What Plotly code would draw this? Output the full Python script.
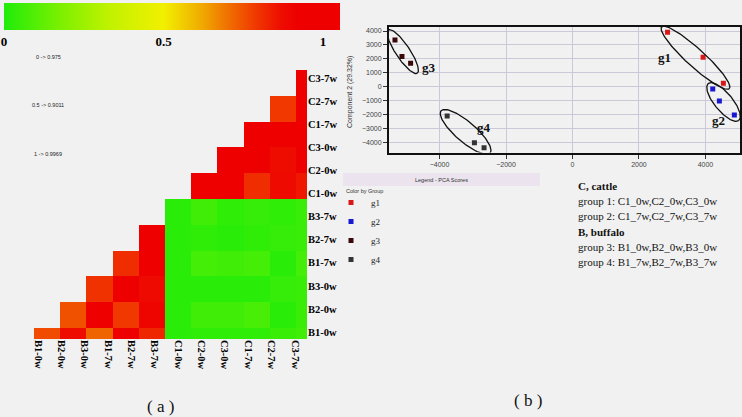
import numpy as np
import plotly.graph_objects as go

W, H = 742, 417
BG = '#f1f1f1'
SERIF = 'Liberation Serif'
SANS = 'Liberation Sans'

# ---------------- data: panel (a) ----------------
samples = ['B1-0w', 'B2-0w', 'B3-0w', 'B1-7w', 'B2-7w', 'B3-7w',
           'C1-0w', 'C2-0w', 'C3-0w', 'C1-7w', 'C2-7w', 'C3-7w']

# similarity on the 0..1 colour scale; each list = sample vs all later samples
sim_B1_0w = [0.76, 0.87, 0.72, 0.95, 0.82, 0.02, 0.03, 0.03, 0.03, 0.05, 0.06]
sim_B2_0w = [0.75, 0.95, 0.79, 0.90, 0.02, 0.06, 0.06, 0.08, 0.02, 0.05]
sim_B3_0w = [0.80, 0.95, 0.88, 0.02, 0.02, 0.02, 0.02, 0.04, 0.05]
sim_B1_7w = [0.81, 0.95, 0.02, 0.07, 0.06, 0.07, 0.02, 0.07]
sim_B2_7w = [0.95, 0.02, 0.03, 0.02, 0.03, 0.04, 0.05]
sim_B3_7w = [0.02, 0.06, 0.03, 0.04, 0.03, 0.05]
sim_C1_0w = [0.95, 0.95, 0.81, 0.88, 0.85]
sim_C2_0w = [0.95, 0.95, 0.87, 0.95]
sim_C3_0w = [0.95, 0.95, 0.95]
sim_C1_7w = [0.79, 0.95]
sim_C2_7w = [0.95]

scale_ticks = [0, 0.5, 1]
scale_ticktext = ['0', '0.5', '1']
scale_notes = ['0 -> 0.975', '0.5 -> 0.9011', '1 -> 0.9969']

# ---------------- data: panel (b) ----------------
groups = ['g1', 'g2', 'g3', 'g4']
pc1_g1 = [2860, 3930, 4540]
pc2_g1 = [3910, 2120, 250]
pc1_g2 = [4220, 4420, 4870]
pc2_g2 = [-160, -1030, -2040]
pc1_g3 = [-5340, -5130, -4870]
pc2_g3 = [3360, 2160, 1680]
pc1_g4 = [-3770, -2950, -2660]
pc2_g4 = [-2110, -4030, -4390]

info_lines = ['<b>C, cattle</b>',
              'group 1: C1_0w,C2_0w,C3_0w',
              'group 2: C1_7w,C2_7w,C3_7w',
              '<b>B, buffalo</b>',
              'group 3: B1_0w,B2_0w,B3_0w',
              'group 4: B1_7w,B2_7w,B3_7w']

# ---------------- styles ----------------
group_colors = ['#d81818', '#1818d0', '#3a0808', '#333333']
ellipse_pad = [(8, 9), (7, 9), (12, 7), (8, 10)]
group_label_pos = [(2770, 2060), (4380, -2440), (-4330, 1350), (-2670, -2950)]


def px(x):
    return x / W


def py(y):
    return 1 - y / H


fig = go.Figure()

# ---------------- heatmap ----------------
sim_rows = [sim_B1_0w, sim_B2_0w, sim_B3_0w, sim_B1_7w, sim_B2_7w, sim_B3_7w,
            sim_C1_0w, sim_C2_0w, sim_C3_0w, sim_C1_7w, sim_C2_7w]
n = len(sim_rows)
z = []
for i in range(n):
    a = n - 1 - i
    row = []
    for j in range(n):
        b = j + 1
        row.append(sim_rows[a][b - a - 1] if b > a else None)
    z.append(row)

x_edges = list(range(n)) + [n - 1 + 0.42]
y_edges = list(range(n)) + [n - 1 + 0.43]

ZMAX = 1.053
cs_vals = [0.0, 0.18, 0.33, 0.5, 0.62, 0.72, 0.8, 0.87, 0.92, ZMAX]
cs_cols = ['rgb(32,236,10)', 'rgb(125,240,0)', 'rgb(192,242,0)', 'rgb(242,240,0)',
           'rgb(240,170,0)', 'rgb(240,100,0)', 'rgb(240,50,0)', 'rgb(238,12,0)',
           'rgb(238,0,0)', 'rgb(238,0,0)']
colorscale = [[v / ZMAX, c] for v, c in zip(cs_vals, cs_cols)]

fig.add_trace(go.Heatmap(
    z=z, x=x_edges, y=y_edges, zmin=0, zmax=ZMAX, colorscale=colorscale,
    xaxis='x', yaxis='y', hoverinfo='skip', showscale=True, showlegend=False,
    colorbar=dict(orientation='h', lenmode='pixels', len=336, thicknessmode='pixels',
                  thickness=27, x=px(4), xanchor='left', y=py(3), yanchor='top',
                  xpad=0, ypad=0, outlinewidth=0, ticks='',
                  tickvals=scale_ticks, ticktext=scale_ticktext,
                  tickfont=dict(family=SERIF, size=13, color='black', weight='bold'))))

# ---------------- PCA ----------------
XR = [-5520, 5040]
YR = [-4734, 4310]
XD = [389, 740]
YD = [26.7, 152.5]
sx = (XD[1] - XD[0]) / (XR[1] - XR[0])
sy = (YD[1] - YD[0]) / (YR[1] - YR[0])

pcs = [(pc1_g1, pc2_g1), (pc1_g2, pc2_g2), (pc1_g3, pc2_g3), (pc1_g4, pc2_g4)]
for k, (gx, gy) in enumerate(pcs):
    fig.add_trace(go.Scatter(
        x=gx, y=gy, mode='markers', name=groups[k], xaxis='x2', yaxis='y2',
        marker=dict(symbol='square', size=5, color=group_colors[k]),
        hoverinfo='skip'))

for k, (gx, gy) in enumerate(pcs):
    P = np.column_stack([np.array(gx) * sx, np.array(gy) * sy])
    p0, p1 = P[0], P[-1]
    c = (p0 + p1) / 2
    d = p1 - p0
    L = np.hypot(*d)
    d = d / L
    nrm = np.array([-d[1], d[0]])
    A = L / 2 + ellipse_pad[k][0]
    B = ellipse_pad[k][1]
    t = np.linspace(0, 2 * np.pi, 120)
    E = c[None, :] + A * np.cos(t)[:, None] * d[None, :] + B * np.sin(t)[:, None] * nrm[None, :]
    fig.add_trace(go.Scatter(
        x=E[:, 0] / sx, y=E[:, 1] / sy, mode='lines', xaxis='x2', yaxis='y2',
        line=dict(color='#111111', width=1.3), showlegend=False, hoverinfo='skip'))

annotations = []


def note(x, y, text, font, xref='paper', yref='paper', xanchor='center', **kw):
    annotations.append(dict(x=x, y=y, xref=xref, yref=yref, text=text, showarrow=False,
                            xanchor=xanchor, yanchor='middle', font=font, **kw))


for k, (lx, ly) in enumerate(group_label_pos):
    note(lx, ly, '<b>%s</b>' % groups[k], dict(family=SERIF, size=13, color='#111'),
         xref='x2', yref='y2')

# scale notes
for i, s in enumerate(scale_notes):
    note(px(48), py(57 + i * 48.5), s, dict(family=SANS, size=5.5, color='#222'))

# y-axis title for PCA
note(px(350), py(92), 'Component 2 (29.32%)', dict(family=SANS, size=7, color='#333'),
     textangle=-90)

# legend header and title
note(px(441), py(179.5), 'Legend - PCA Scores', dict(family=SANS, size=5.5, color='#333'))
note(px(344), py(191), 'Color by Group', dict(family=SANS, size=5.5, color='#333'),
     xanchor='left')

# info lines
for i, s in enumerate(info_lines):
    note(px(576), py(186 + i * 15.2), s, dict(family=SERIF, size=11, color='#111'),
         xanchor='left')

note(px(160), py(406), '( a )', dict(family=SERIF, size=17, color='#111'))
note(px(528), py(400), '( b )', dict(family=SERIF, size=17, color='#111'))

shapes = [dict(type='rect', xref='paper', yref='paper', x0=px(343), x1=px(540),
               y0=py(186), y1=py(173), fillcolor='#ebe3ee', line=dict(width=0), layer='below')]

lab_font = dict(family=SERIF, size=10.5, color='black', weight='bold')

fig.update_layout(
    width=W, height=H, margin=dict(l=0, r=0, t=0, b=0, autoexpand=False),
    paper_bgcolor=BG, plot_bgcolor=BG,
    xaxis=dict(domain=[px(34), px(307)], range=[0, n - 1 + 0.42], showgrid=False,
               zeroline=False, showline=False, tickmode='array',
               tickvals=list(np.linspace(0.15, 9.96, 12)), ticktext=samples,
               tickangle=90, tickfont=lab_font, ticks='', anchor='y', automargin=False),
    yaxis=dict(domain=[py(339), py(70)], range=[n - 1 + 0.43, 0], showgrid=False,
               zeroline=False, showline=False, side='right', tickmode='array',
               tickvals=list(np.linspace(0.31, 10.16, 12)), ticktext=samples[::-1],
               tickfont=lab_font, ticks='', anchor='x', automargin=False),
    xaxis2=dict(domain=[px(XD[0]), px(XD[1])], range=XR, anchor='y2', dtick=2000,
                tick0=0, showgrid=True, gridcolor='#cbc8d8', gridwidth=1, zeroline=False,
                showline=True, mirror=True, linecolor='#111', linewidth=2,
                ticks='outside', ticklen=4, tickcolor='#333', automargin=False,
                tickfont=dict(family=SANS, size=7, color='#444')),
    yaxis2=dict(domain=[py(YD[1]), py(YD[0])], range=YR, anchor='x2', dtick=1000,
                tick0=0, showgrid=True, gridcolor='#cbc8d8', gridwidth=1, zeroline=False,
                showline=True, mirror=True, linecolor='#111', linewidth=2,
                ticks='outside', ticklen=4, tickcolor='#333', automargin=False,
                tickfont=dict(family=SANS, size=7, color='#444')),
    showlegend=True,
    legend=dict(x=px(331), xanchor='left', y=py(188), yanchor='top',
                bgcolor='rgba(0,0,0,0)', font=dict(family=SERIF, size=9, color='#222'),
                tracegroupgap=0),
    annotations=annotations, shapes=shapes,
)

fig.write_html('out.html', config={'displayModeBar': False},
               post_script="document.body.style.margin='0px';document.body.style.background='%s';" % BG)
